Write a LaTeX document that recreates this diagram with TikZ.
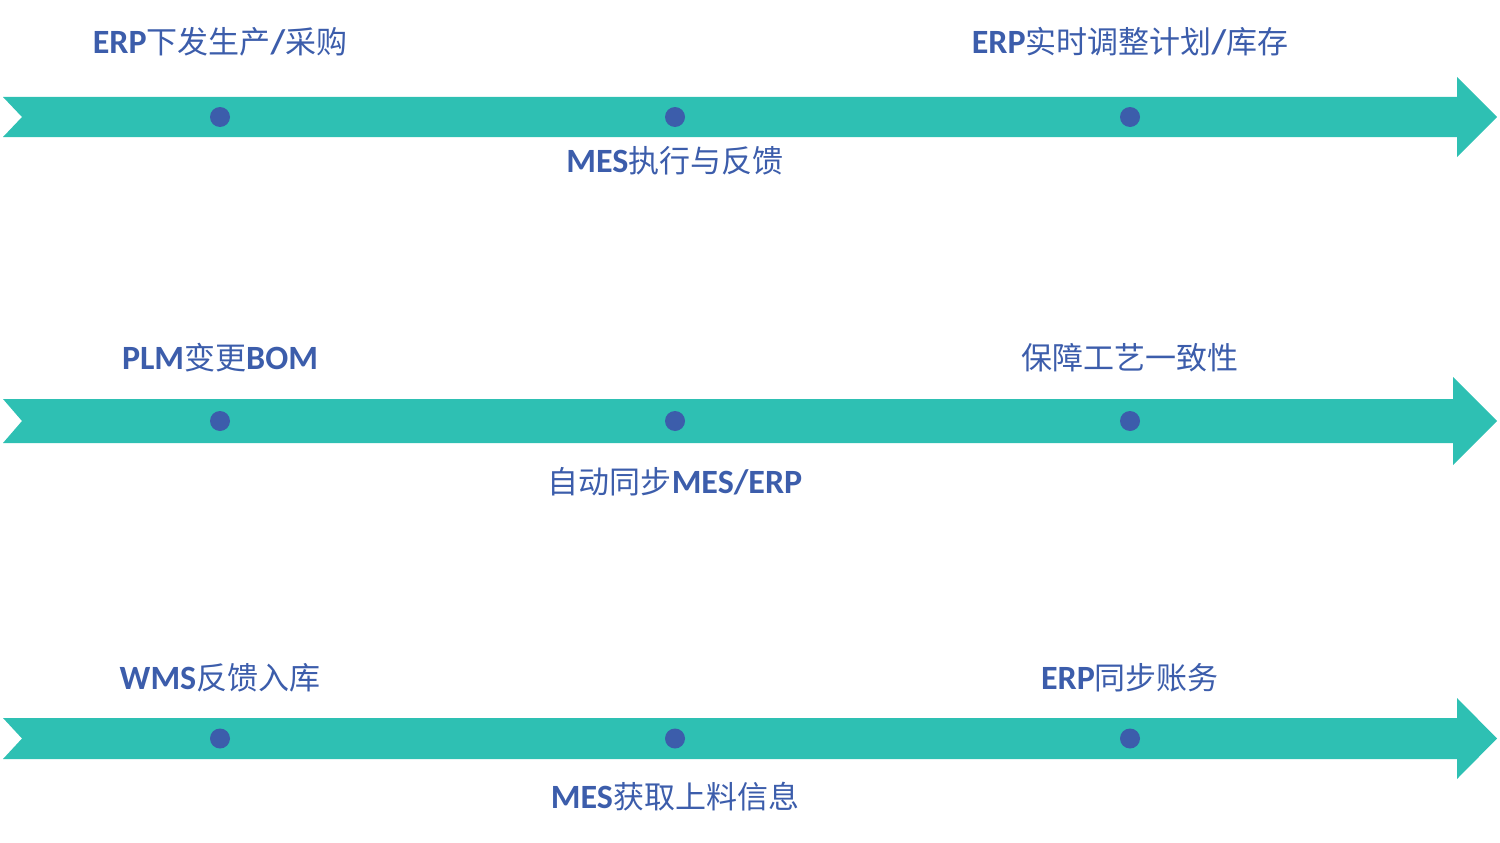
\documentclass[tikz,border=0pt]{standalone}
\usepackage{fontspec}
\setmainfont{Carlito}[BoldFont={Carlito Bold}]
\newfontfamily\cjk{Noto Sans CJK SC}[BoldFont={Noto Sans CJK SC}]
\newcommand{\zh}[1]{{\cjk\fontsize{31}{34}\selectfont #1}}
\definecolor{teal1}{HTML}{2EC0B3}
\definecolor{blu}{HTML}{3C5DAB}
\begin{document}
\begin{tikzpicture}[x=1pt,y=-1pt,
  lab/.style={text=blu,font=\fontsize{34}{38}\selectfont\bfseries,anchor=center,inner sep=0pt},
  dot/.style={circle,fill=blu,minimum size=20pt,inner sep=0pt}]
\useasboundingbox (0,0) rectangle (1500,843);
\foreach \t/\b/\ht/\hb/\hx [count=\i] in {97/137/77/157/1457, 399/443/377/465/1453, 718/759/698/779/1457}{
  \fill[teal1] (3,\t) -- (\hx,\t) -- (\hx,\ht) -- (1497,{(\t+\b)/2}) -- (\hx,\hb) -- (\hx,\b) -- (3,\b) -- (22,{(\t+\b)/2}) -- cycle;
  \node[dot] (a\i) at (220,{(\t+\b)/2}) {};
  \node[dot] (b\i) at (675,{(\t+\b)/2}) {};
  \node[dot] (c\i) at (1130,{(\t+\b)/2}) {};
}
\node[lab] (t1) at (220,42) {ERP\zh{下发生产}/\zh{采购}};
\node[lab] (t2) at (1130,42) {ERP\zh{实时调整计划}/\zh{库存}};
\node[lab] (t3) at (675,161) {MES\zh{执行与反馈}};
\node[lab] (t4) at (220,358) {PLM\zh{变更}BOM};
\node[lab] (t5) at (1130,358) {\zh{保障工艺一致性}};
\node[lab] (t6) at (675,482) {\zh{自动同步}MES/ERP};
\node[lab] (t7) at (220,678) {WMS\zh{反馈入库}};
\node[lab] (t8) at (1130,678) {ERP\zh{同步账务}};
\node[lab] (t9) at (675,797) {MES\zh{获取上料信息}};
\end{tikzpicture}
\end{document}
